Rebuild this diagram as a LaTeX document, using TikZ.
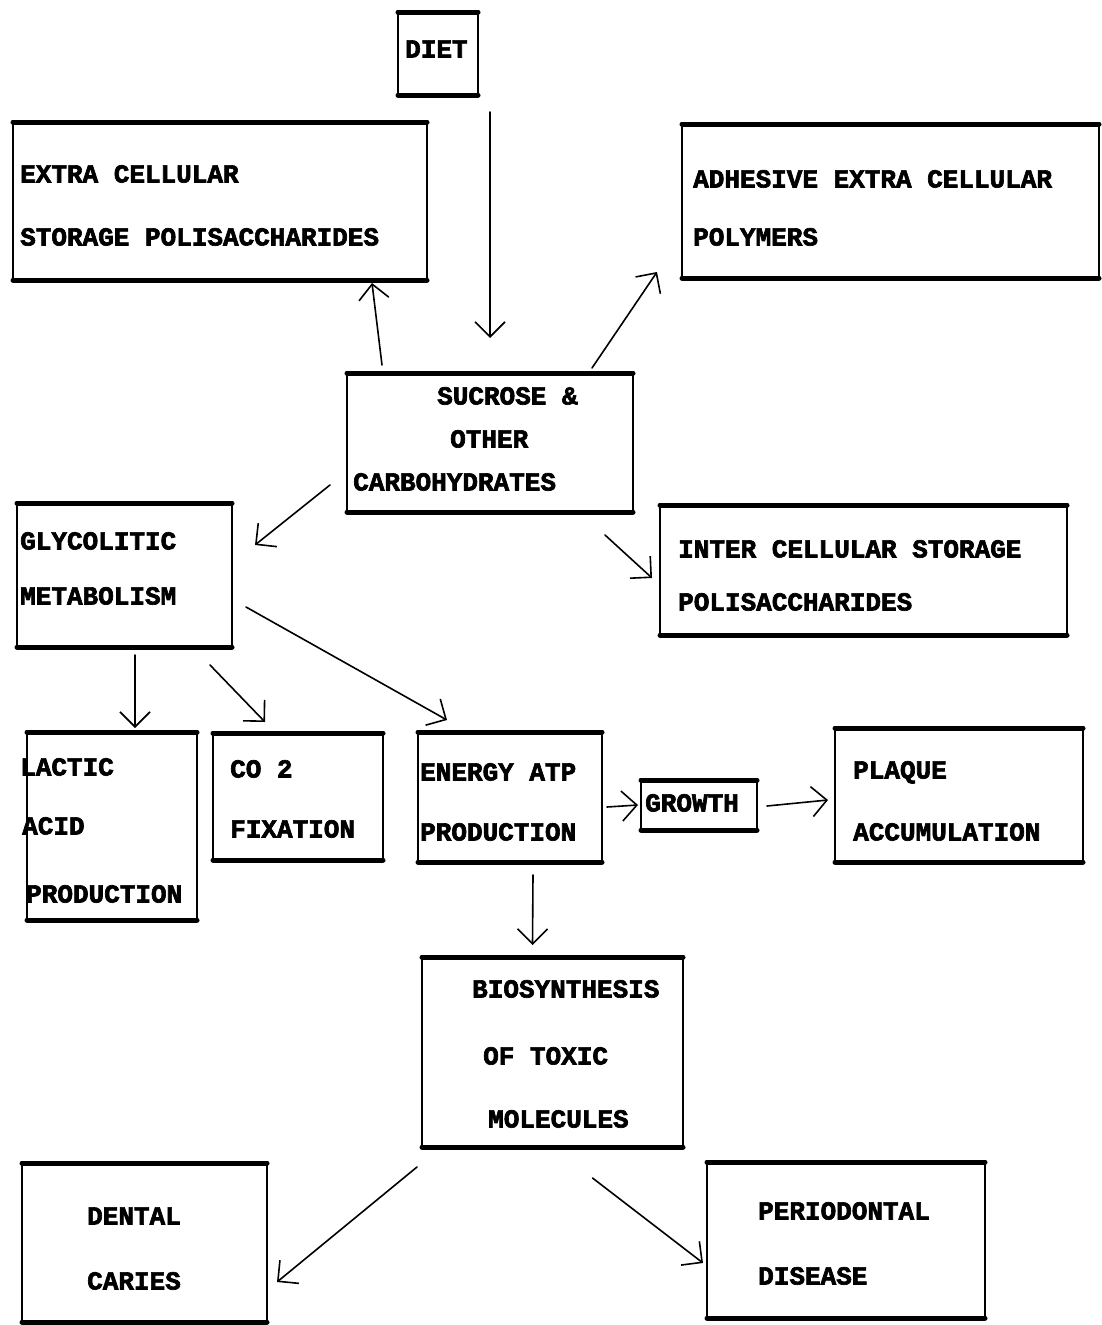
\documentclass[tikz,border=0pt]{standalone}
\usepackage{fontspec}
\newfontfamily\tw{Liberation Mono}[BoldFeatures={FakeBold=2.5}]
\usetikzlibrary{arrows.meta,calc}
\tikzset{
 boxside/.style={draw, line width=2.4pt, line cap=round},
 boxrule/.style={draw, line width=5pt, line cap=round},
 box/.style={draw=none, inner sep=0pt, outer sep=0pt, append after command={
   (\tikzlastnode.north west) edge[boxside] (\tikzlastnode.south west)
   (\tikzlastnode.north east) edge[boxside] (\tikzlastnode.south east)
   (\tikzlastnode.north west) edge[boxrule] (\tikzlastnode.north east)
   (\tikzlastnode.south west) edge[boxrule] (\tikzlastnode.south east)}},
 lbl/.style={font={\tw\bfseries\fontsize{26}{30}\selectfont}, inner sep=0pt, anchor=west, text height=15pt, text depth=0pt},
 arr/.style={line width=1.6pt, line cap=round, -{Straight Barb[length=15pt,width=30pt,line width=1.6pt]}},
}
\begin{document}
\begin{tikzpicture}[x=1pt,y=-1pt]
\fill[white] (0,0) rectangle (1102,1325);
\useasboundingbox (0,0) rectangle (1102,1325);
% boxes
\node[box, minimum width=80pt, minimum height=83pt] (diet) at (438,53.5) {};
\node[box, minimum width=414pt, minimum height=158pt] (ecs) at (220,201) {};
\node[box, minimum width=417pt, minimum height=154pt] (aecp) at (890.5,201) {};
\node[box, minimum width=286pt, minimum height=139pt] (suc) at (490,442.5) {};
\node[box, minimum width=215pt, minimum height=144pt] (gly) at (124.5,575) {};
\node[box, minimum width=407pt, minimum height=130pt] (ics) at (863.5,570) {};
\node[box, minimum width=170pt, minimum height=188pt] (lac) at (112,826) {};
\node[box, minimum width=170pt, minimum height=127pt] (co2) at (298,796.5) {};
\node[box, minimum width=184pt, minimum height=130pt] (atp) at (510,797) {};
\node[box, minimum width=116pt, minimum height=50pt] (gro) at (699,805) {};
\node[box, minimum width=248pt, minimum height=134pt] (plq) at (959,795) {};
\node[box, minimum width=261pt, minimum height=190pt] (bio) at (552.5,1052) {};
\node[box, minimum width=245pt, minimum height=159pt] (dc) at (144.5,1242.5) {};
\node[box, minimum width=278pt, minimum height=156pt] (pd) at (846,1240) {};
% texts
\node[lbl] (t1) at (405,50) {DIET};
\node[lbl] (t2) at (20,175) {EXTRA CELLULAR};
\node[lbl] (t3) at (20,238) {STORAGE POLISACCHARIDES};
\node[lbl] (t4) at (693,180) {ADHESIVE EXTRA CELLULAR};
\node[lbl] (t5) at (693,238) {POLYMERS};
\node[lbl] (t6) at (437,397) {SUCROSE \&};
\node[lbl] (t7) at (450,440) {OTHER};
\node[lbl] (t8) at (353,483) {CARBOHYDRATES};
\node[lbl] (t9) at (20,542) {GLYCOLITIC};
\node[lbl] (t10) at (20,597) {METABOLISM};
\node[lbl] (t11) at (678,550) {INTER CELLULAR STORAGE};
\node[lbl] (t12) at (678,603) {POLISACCHARIDES};
\node[lbl] (t13) at (20,768) {LACTIC};
\node[lbl] (t14) at (22,827) {ACID};
\node[lbl] (t15) at (26,895) {PRODUCTION};
\node[lbl] (t16) at (230,770) {CO 2};
\node[lbl] (t17) at (230,830) {FIXATION};
\node[lbl] (t18) at (420,773) {ENERGY ATP};
\node[lbl] (t19) at (420,833) {PRODUCTION};
\node[lbl] (t20) at (645,804) {GROWTH};
\node[lbl] (t21) at (853,771) {PLAQUE};
\node[lbl] (t22) at (853,833) {ACCUMULATION};
\node[lbl] (t23) at (472,990) {BIOSYNTHESIS};
\node[lbl] (t24) at (483,1057) {OF TOXIC};
\node[lbl] (t25) at (488,1120) {MOLECULES};
\node[lbl] (t26) at (87,1217) {DENTAL};
\node[lbl] (t27) at (87,1282) {CARIES};
\node[lbl] (t28) at (758,1212) {PERIODONTAL};
\node[lbl] (t29) at (758,1277) {DISEASE};
% arrows
\draw[arr, shorten <=17pt, shorten >=35pt] (diet.south -| suc.north) -- (suc.north);
\draw[arr] ($(suc.north west)+(35,-8)$) -- ($(ecs.south east)+(-55,3)$);
\draw[arr] ($(suc.north east)+(-41,-5)$) -- ($(aecp.south west)+(-25,-6)$);
\draw[arr] ($(suc.south west)+(-17,-27)$) -- ($(gly.north east)+(23,42)$);
\draw[arr] ($(suc.south east)+(-28,23)$) -- ($(ics.west)+(-8,8)$);
\draw[arr] ($(gly.south)+(10.5,8)$) -- ($(lac.north)+(23,-4)$);
\draw[arr] ($(gly.south east)+(-22,18)$) -- ($(co2.north)+(-33,-11)$);
\draw[arr] ($(gly.east)+(14,32)$) -- ($(atp.north west)+(29,-12)$);
\draw[arr] ($(atp.east)+(5,10)$) -- ($(gro.west)+(-3,0)$);
\draw[arr] ($(gro.east)+(10,1)$) -- ($(plq.west)+(-7,5)$);
\draw[arr] ($(atp.south)+(23,13)$) -- ($(bio.north)+(-20,-12)$);
\draw[arr] ($(bio.south west)+(-5,20)$) -- ($(dc.east)+(10,39.5)$);
\draw[arr] ($(bio.south)+(40,31)$) -- ($(pd.west)+(-4,23)$);
\end{tikzpicture}
\end{document}
